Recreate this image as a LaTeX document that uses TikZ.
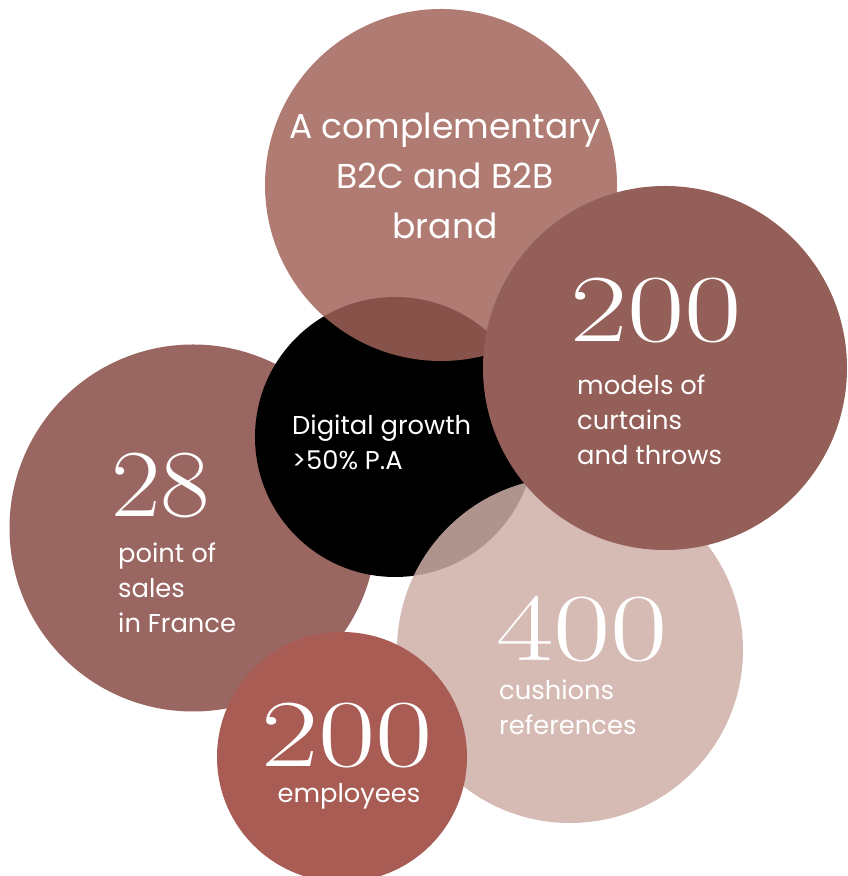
\documentclass[tikz,border=0pt]{standalone}
\usepackage{fontspec}
\setmainfont{Poppins}
\usepackage{tikz-network}
\definecolor{topc}{RGB}{160,98,88}
\definecolor{rightc}{RGB}{148,95,88}
\definecolor{leftc}{RGB}{154,102,97}
\definecolor{pinkc}{RGB}{206,175,167}
\definecolor{empc}{RGB}{168,92,83}
\newcommand{\widenum}[2][1.3]{\scalebox{#1}[1]{#2}}
\tikzset{
  lbl/.style={text=white, inner sep=0pt, align=left, font=\fontsize{22}{30}\selectfont},
  num/.style={text=white, inner sep=0pt, font=\fontfamily{lmr}\fontsize{82}{82}\selectfont},
}

\begin{document}
\begin{tikzpicture}
\useasboundingbox (0,0) rectangle (25.41,26.28);
\clip (0,0) rectangle (25.41,26.28);
\Vertex[x=5.79,y=10.44,size=11.01,color=leftc,style={draw=none}]{left}
\Vertex[x=11.85,y=13.17,size=8.40,color=black,style={draw=none}]{digital}
\Vertex[x=13.23,y=20.73,size=10.56,color=topc,opacity=.84,style={draw=none}]{top}
\Vertex[x=17.10,y=6.78,size=10.38,color=pinkc,opacity=.85,style={draw=none}]{cushions}
\Vertex[x=19.95,y=15.24,size=10.92,color=rightc,style={draw=none}]{models}
\Vertex[x=10.26,y=3.57,size=7.50,color=empc,style={draw=none}]{staff}
\node[lbl,anchor=base,align=center,font=\fontsize{29.5}{42.7}\selectfont] (toptext) at (13.35,19.11) {A complementary\\B2C and B2B\\brand};
\node[num,anchor=base west] (modelsnum) at (17.10,16.02) {\widenum{200}};
\node[lbl,anchor=base west] (modelstext) at (17.31,12.33) {models of\\curtains\\and throws};
\node[lbl,anchor=base west,font=\fontsize{22}{30.7}\selectfont] (digitaltext) at (8.76,12.18) {Digital growth\\>50\% P.A};
\node[num,anchor=base west] (leftnum) at (3.33,10.77) {\widenum[1.12]{28}};
\node[lbl,anchor=base west] (lefttext) at (3.54,7.29) {point of\\sales\\in France};
\node[num,anchor=base west] (cushionsnum) at (14.88,6.45) {\widenum{400}};
\node[lbl,anchor=base west] (cushionstext) at (14.97,4.23) {cushions\\references};
\node[num,anchor=base west] (staffnum) at (7.83,3.27) {\widenum{200}};
\node[lbl,anchor=base] (stafftext) at (10.47,2.19) {employees};
\end{tikzpicture}
\end{document}
